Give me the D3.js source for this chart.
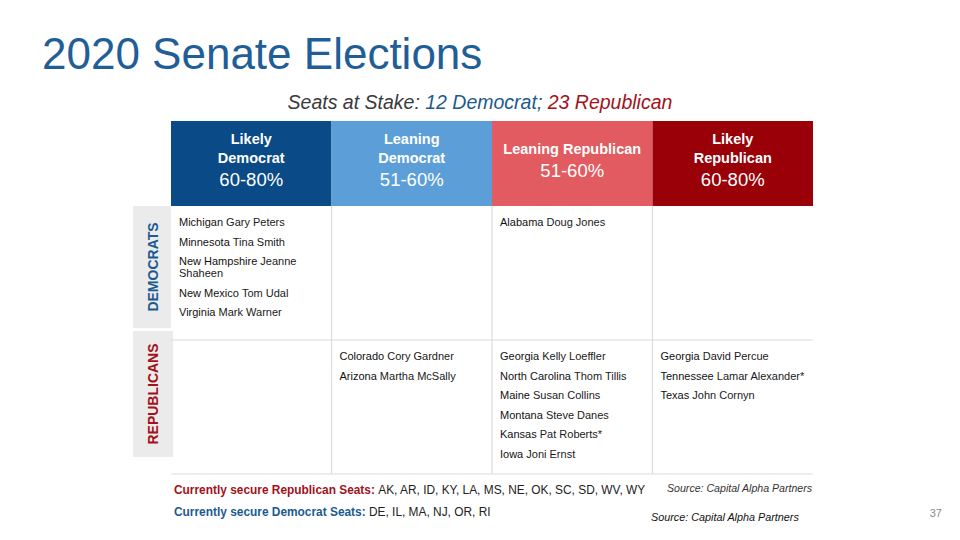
<!DOCTYPE html>
<html><head><meta charset="utf-8">
<script src="https://cdn.jsdelivr.net/npm/d3@7"></script>
<style>body{margin:0;background:#fff}svg{display:block;font-family:"Liberation Sans",Arial,sans-serif}</style>
</head><body><svg id="c" width="960" height="540"></svg>
<script>
const title = "2020 Senate Elections";
const columns = [["Likely", "Democrat"], ["Leaning", "Democrat"], ["Leaning Republican"], ["Likely", "Republican"]];
const ranges = ["60-80%", "51-60%", "51-60%", "60-80%"];
const headerColors = ["#0a4a86", "#5c9fd8", "#e25b60", "#990008"];
const parties = ["DEMOCRATS", "REPUBLICANS"];
const partyColors = ["#1c5a92", "#a3111a"];
const states = ["Michigan","Minnesota","New Hampshire","New Mexico","Virginia","Alabama",
  "Colorado","Arizona","Georgia","North Carolina","Maine","Montana","Kansas","Iowa","Georgia","Tennessee","Texas"];
const senators = ["Gary Peters","Tina Smith","Jeanne Shaheen","Tom Udal","Mark Warner","Doug Jones",
  "Cory Gardner","Martha McSally","Kelly Loeffler","Thom Tillis","Susan Collins","Steve Danes","Pat Roberts*","Joni Ernst","David Percue","Lamar Alexander*","John Cornyn"];
const raceParty = [0,0,0,0,0,0, 1,1,1,1,1,1,1,1,1,1,1];
const raceColumn = [0,0,0,0,0,2, 1,1,2,2,2,2,2,2,3,3,3];
const securePrefix = ["Currently secure Republican Seats:", "Currently secure Democrat Seats:"];
const secureStates = ["AK, AR, ID, KY, LA, MS, NE, OK, SC, SD, WV, WY", "DE, IL, MA, NJ, OR, RI"];
const secureColors = ["#a3111a", "#1c5a92"];

const svg = d3.select("#c");
const x = d3.scaleBand().domain(d3.range(columns.length)).range([171, 813]);
const y = d3.scaleBand().domain(d3.range(parties.length)).range([206, 474]);
const headTop = 121;

svg.append("text").attr("x", 42).attr("y", 69).attr("fill", "#1f5e96")
  .attr("font-size", 44).text(title);

const sub = svg.append("text").attr("x", 480).attr("y", 109).attr("text-anchor", "middle")
  .attr("font-size", 19.5).attr("font-style", "italic");
sub.append("tspan").attr("fill", "#3a3a3a").text("Seats at Stake: ");
sub.append("tspan").attr("fill", "#1c5a8c").text("12 Democrat; ");
sub.append("tspan").attr("fill", "#a3111a").text("23 Republican");

// headers
const hg = svg.selectAll("g.head").data(columns).join("g").attr("class", "head");
hg.append("rect").attr("x", (d,i) => x(i)).attr("y", headTop).attr("width", x.bandwidth()).attr("height", y.range()[0] - headTop)
  .attr("fill", (d,i) => headerColors[i]);
hg.each(function(d, i) {
  const g = d3.select(this);
  const cx = x(i) + x.bandwidth() / 2;
  const startY = d.length === 2 ? 144 : 154;
  d.forEach((line, j) => g.append("text").attr("x", cx).attr("y", startY + j * 19)
    .attr("text-anchor", "middle").attr("fill", "#fff").attr("font-weight", "bold").attr("font-size", 14.5).text(line));
  g.append("text").attr("x", cx).attr("y", startY + d.length * 19 + 4).attr("text-anchor", "middle")
    .attr("fill", "#fff").attr("font-size", 18.5).text(ranges[i]);
});

// party labels
const pBoxes = [[206, 328, 171], [331, 457, 173]];
parties.forEach((p, i) => {
  const b = pBoxes[i];
  svg.append("rect").attr("x", 133).attr("y", b[0]).attr("width", b[2] - 133).attr("height", b[1] - b[0]).attr("fill", "#ebebeb");
  const cy = (b[0] + b[1]) / 2;
  svg.append("text").attr("transform", `translate(158,${cy}) rotate(-90)`).attr("text-anchor", "middle")
    .attr("fill", partyColors[i]).attr("font-weight", "bold").attr("font-size", 14).text(p);
});

// grid lines
const gridColor = "#dcdcdc";
d3.range(1, columns.length).forEach(i => svg.append("line").attr("x1", x(i)).attr("x2", x(i))
  .attr("y1", y.range()[0]).attr("y2", y.range()[1]).attr("stroke", gridColor).attr("stroke-width", 1.2));
d3.range(1, parties.length + 1).forEach(i => svg.append("line").attr("x1", x.range()[0]).attr("x2", x.range()[1])
  .attr("y1", y.range()[0] + i * y.bandwidth()).attr("y2", y.range()[0] + i * y.bandwidth()).attr("stroke", gridColor).attr("stroke-width", 1.2));

// entries
const cellY = {};
states.forEach((st, i) => {
  const key = raceParty[i] + "-" + raceColumn[i];
  const x0 = x(raceColumn[i]) + 8;
  let yy = cellY[key] !== undefined ? cellY[key] : y(raceParty[i]) + 20;
  const maxW = x.bandwidth() - 14;
  const t = svg.append("text").attr("x", x0).attr("y", yy).attr("font-size", 11).attr("fill", "#1a1a1a");
  t.append("tspan").attr("fill", "#111").attr("font-weight", 500).text(st + " ");
  const words = senators[i].split(" ");
  let ts = t.append("tspan").text("");
  let lines = 0;
  words.forEach((w, k) => {
    const prev = ts.text();
    ts.text(prev + (prev ? " " : "") + w);
    if (t.node().getComputedTextLength() > maxW && k > 0) {
      ts.text(prev);
      lines++;
      ts = t.append("tspan").attr("x", x0).attr("dy", 12).text(w);
    }
  });
  cellY[key] = yy + 19.6 + lines * 12;
});

// bottom
securePrefix.forEach((p, i) => {
  const t = svg.append("text").attr("x", 174).attr("y", 494 + i * 22).attr("font-size", 11.9);
  t.append("tspan").attr("fill", secureColors[i]).attr("font-weight", "bold").text(p + " ");
  t.append("tspan").attr("fill", "#222").text(secureStates[i]);
});
svg.append("text").attr("x", 667).attr("y", 492).attr("font-size", 10.6).attr("font-style", "italic").attr("fill", "#333")
  .text("Source: Capital Alpha Partners");
svg.append("text").attr("x", 651).attr("y", 521).attr("font-size", 10.8).attr("font-style", "italic").attr("fill", "#111")
  .text("Source: Capital Alpha Partners");
svg.append("text").attr("x", 942).attr("y", 517).attr("text-anchor", "end").attr("font-size", 11).attr("fill", "#8a8a8a").text("37");
</script></body></html>
